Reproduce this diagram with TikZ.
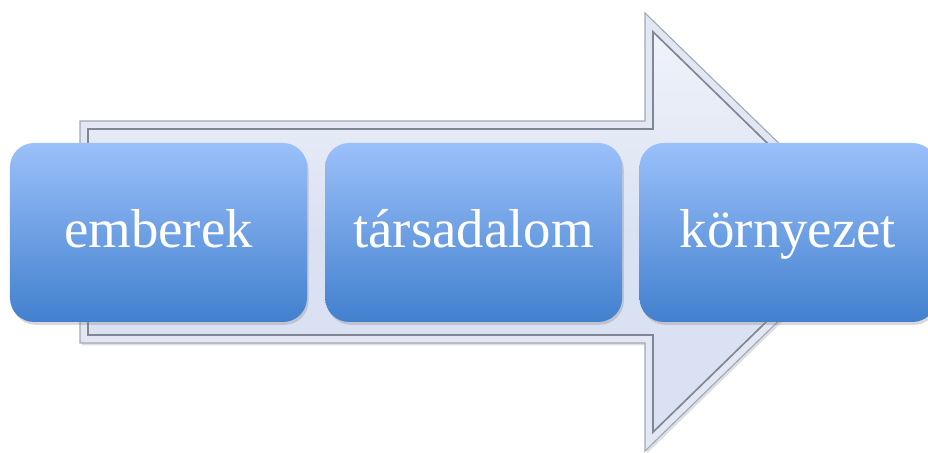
\documentclass[tikz,border=0pt]{standalone}
\usepackage{fontspec}
\setmainfont{Liberation Serif}
\usetikzlibrary{positioning, shadows}

\definecolor{boxtop}{RGB}{155,192,250}
\definecolor{boxbottom}{RGB}{66,128,206}
\definecolor{arrowband}{RGB}{226,231,243}
\definecolor{arrowedge}{RGB}{160,168,186}
\definecolor{arrowfill}{RGB}{218,225,242}

\tikzset{
    stagebox/.style = {rounded corners = 0.6cm, minimum width = 7.425cm, minimum height = 4.475cm,
        top color = boxtop, bottom color = boxbottom, text = white,
        font = \fontsize{39}{41}\selectfont, text height = 28pt, text depth = 6pt,
        drop shadow = {opacity = 0.3, shadow xshift = 0.04cm, shadow yshift = -0.07cm}}
}

\begin{document}
\begin{tikzpicture}
    \useasboundingbox (0, 0) rectangle (23.2, 11.325);

    % big arrow behind the boxes
    \filldraw[fill = arrowband, draw = arrowedge, line width = 0.8pt,
        drop shadow = {opacity = 0.25, shadow xshift = 0.05cm, shadow yshift = -0.06cm}]
        (2, 8.3) -- (16.125, 8.3) -- (16.125, 11.0) -- (21.75, 5.525) -- (16.125, 0.05) -- (16.125, 2.75) -- (2, 2.75) -- cycle;
    \draw[draw = arrowedge!80!black, line width = 1.2pt, top color = arrowfill!40!white, bottom color = arrowfill, middle color = arrowfill]
        (2.2, 8.1) -- (16.325, 8.1) -- (16.325, 10.53) -- (21.46, 5.525) -- (16.325, 0.52) -- (16.325, 2.95) -- (2.2, 2.95) -- cycle;

    \node[stagebox] (people) at (3.9625, 5.5125) {emberek};
    \node[stagebox, right = 0.44cm of people] (society) {társadalom};
    \node[stagebox, right = 0.42cm of society] (environment) {környezet};
\end{tikzpicture}
\end{document}
